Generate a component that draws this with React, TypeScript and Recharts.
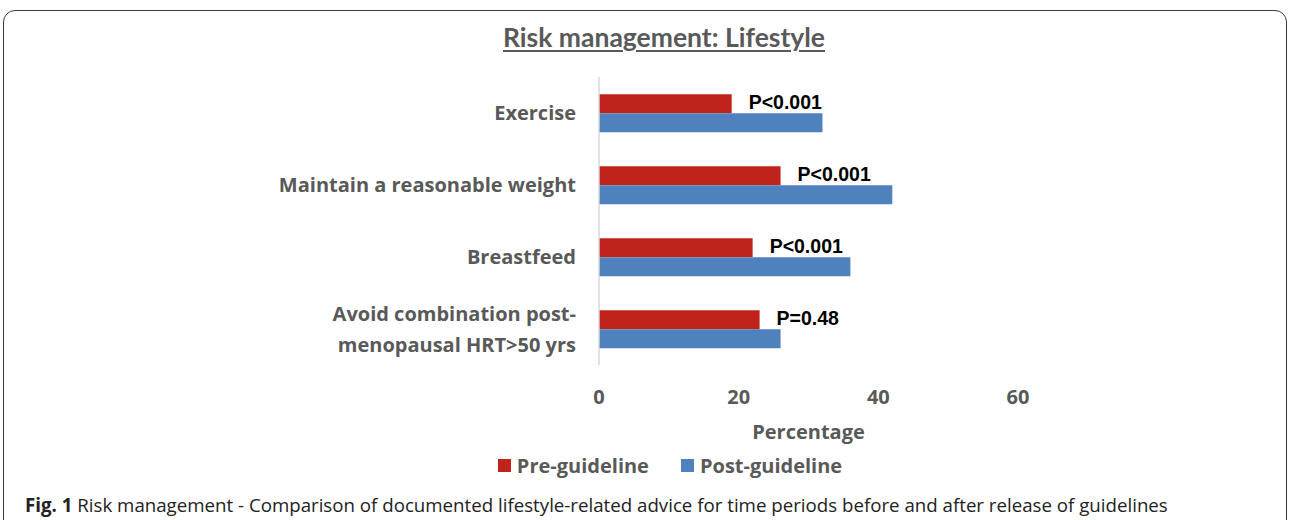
import React from "react";
import {
  BarChart,
  Bar,
  XAxis,
  YAxis,
  Legend,
  LabelList,
} from "recharts";

const categories = [
  "Exercise",
  "Maintain a reasonable weight",
  "Breastfeed",
  "Avoid combination post-\nmenopausal HRT>50 yrs",
];
const preGuideline = [19, 26, 22, 23];
const postGuideline = [32, 42, 36, 26];
const pValues = ["P<0.001", "P<0.001", "P<0.001", "P=0.48"];
const xTicks = [0, 20, 40, 60];

const data = categories.map((name, i) => ({
  name,
  pre: preGuideline[i],
  post: postGuideline[i],
  p: pValues[i],
}));

const GRAY = "#595959";
const RED = "#C0231B";
const BLUE = "#4F81BD";
const LABEL_FONT = "'Open Sans', sans-serif";

const CategoryTick = ({ x, y, payload }: any) => {
  const lines = String(payload.value).split("\n");
  const lineHeight = 31;
  const startY = y - ((lines.length - 1) * lineHeight) / 2;
  return (
    <text
      x={x}
      y={startY}
      textAnchor="end"
      fill={GRAY}
      fontFamily={LABEL_FONT}
      fontWeight="bold"
      fontSize={20}
    >
      {lines.map((line: string, i: number) => (
        <tspan key={i} x={x} y={startY + i * lineHeight} dy="0.36em">
          {line}
        </tspan>
      ))}
    </text>
  );
};

const PLabel = ({ x, y, width, height, value }: any) => (
  <text
    x={x + width + 17}
    y={y + height / 2 - 2}
    dy="0.36em"
    fill="#000"
    fontFamily="'Liberation Sans', Arial, sans-serif"
    fontWeight="bold"
    fontSize={19.5}
  >
    {value}
  </text>
);

const LegendContent = () => (
  <div
    style={{
      display: "flex",
      justifyContent: "center",
      alignItems: "center",
      gap: 32,
      fontFamily: LABEL_FONT,
      fontWeight: "bold",
      fontSize: 20,
      color: GRAY,
    }}
  >
    {[
      { label: "Pre-guideline", color: RED },
      { label: "Post-guideline", color: BLUE },
    ].map((item) => (
      <div key={item.label} style={{ display: "flex", alignItems: "center" }}>
        <span
          style={{
            display: "inline-block",
            width: 13,
            height: 13,
            background: item.color,
            marginRight: 6,
          }}
        />
        {item.label}
      </div>
    ))}
  </div>
);

export default function App() {
  return (
    <div
      style={{
        position: "fixed",
        left: 0,
        top: 0,
        width: 1292,
        height: 520,
        background: "#fff",
        overflow: "hidden",
      }}
    >
      <div
        style={{
          position: "absolute",
          left: 3,
          top: 10,
          width: 1284,
          height: 540,
          border: "1.5px solid #3a3a3a",
          borderRadius: 12,
          boxSizing: "border-box",
        }}
      />
      <div
        style={{
          position: "absolute",
          left: 0,
          top: 21,
          width: 1328,
          textAlign: "center",
          fontFamily: "Lato, sans-serif",
          fontWeight: "bold",
          fontSize: 26.5,
          color: GRAY,
          textDecoration: "underline",
          textDecorationThickness: 2,
          textUnderlineOffset: 3,
        }}
      >
        Risk management: Lifestyle
      </div>
      <div style={{ position: "absolute", left: 0, top: 0 }}>
        <BarChart
          layout="vertical"
          width={1292}
          height={480}
          data={data}
          margin={{ top: 77, right: 274, bottom: 35, left: 0 }}
          barCategoryGap="24%"
          barGap={0}
        >
          <XAxis
            type="number"
            domain={[0, 60]}
            ticks={xTicks}
            axisLine={false}
            tickLine={false}
            tickSize={0}
            tickMargin={25}
            height={80}
            tick={{
              fill: GRAY,
              fontFamily: LABEL_FONT,
              fontWeight: "bold",
              fontSize: 20,
            }}
            label={{
              value: "Percentage",
              position: "insideBottom",
              offset: 6,
              fill: GRAY,
              fontFamily: LABEL_FONT,
              fontWeight: "bold",
              fontSize: 20,
            }}
          />
          <YAxis
            type="category"
            dataKey="name"
            width={599}
            axisLine={{ stroke: "#d9d9d9", strokeWidth: 1.5 }}
            tickLine={false}
            tickSize={0}
            tickMargin={23}
            tick={<CategoryTick />}
            interval={0}
          />
          <Legend
            verticalAlign="middle"
            align="center"
            content={<LegendContent />}
            wrapperStyle={{ top: 452, left: 24, width: 1292 }}
          />
          <Bar dataKey="pre" name="Pre-guideline" fill={RED} isAnimationActive={false}>
            <LabelList dataKey="p" content={<PLabel />} />
          </Bar>
          <Bar dataKey="post" name="Post-guideline" fill={BLUE} isAnimationActive={false} />
        </BarChart>
      </div>
      <div
        style={{
          position: "absolute",
          left: 25,
          top: 492,
          fontFamily: "'Open Sans', sans-serif",
          fontSize: 18.7,
          color: "#222",
          whiteSpace: "nowrap",
        }}
      >
        <b>Fig. 1</b> Risk management - Comparison of documented lifestyle-related advice for time periods before and after release of guidelines
      </div>
    </div>
  );
}
